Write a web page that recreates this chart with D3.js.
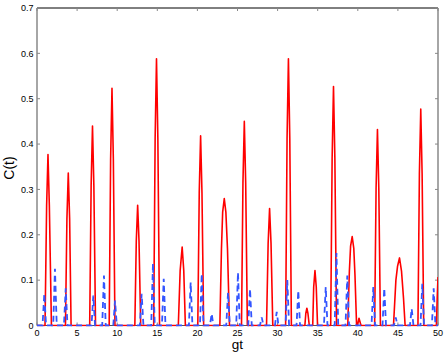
<!DOCTYPE html>
<html>
<head>
<meta charset="utf-8">
<script src="https://d3js.org/d3.v7.min.js"></script>
<style>
  body{ margin:0; background:#fff; }
  .ticklabel{ font-family:"Liberation Sans", Arial, sans-serif; font-size:9px; fill:#000; }
  .axislabel{ font-family:"Liberation Sans", Arial, sans-serif; font-size:14px; fill:#000; }
</style>
</head>
<body>
<svg id="chart" width="447" height="355"></svg>
<script>
// tick values and labels
var xTicks = [0,5,10,15,20,25,30,35,40,45,50];
var yTicks = [0,0.1,0.2,0.3,0.4,0.5,0.6,0.7];
var yTickLabels = ["0","0.1","0.2","0.3","0.4","0.5","0.6","0.7"];

// red solid curve, [gt, C]
var redPoints = [
  [0,0],
  [1.0,0],[1.2,0.264],[1.37,0.377],[1.54,0.264],[1.8,0],
  [3.55,0],[3.73,0.235],[3.9,0.336],[4.07,0.235],[4.25,0],
  [6.57,0],[6.75,0.308],[6.92,0.44],[7.09,0.308],[7.3,0],
  [9.0,0],[9.18,0.366],[9.35,0.523],[9.52,0.366],[9.72,0],
  [12.2,0],[12.38,0.186],[12.55,0.265],[12.72,0.186],[12.93,0],
  [14.55,0],[14.73,0.412],[14.9,0.588],[15.07,0.412],[15.28,0],
  [17.62,0],[17.85,0.121],[18.1,0.173],[18.3,0.121],[18.5,0],
  [20.05,0],[20.23,0.293],[20.4,0.418],[20.57,0.293],[20.78,0],
  [22.8,0],[23.0,0.17],[23.15,0.25],[23.35,0.28],[23.55,0.25],[23.75,0.17],[24.0,0],
  [25.5,0],[25.68,0.315],[25.85,0.45],[26.02,0.315],[26.23,0],
  [28.62,0],[28.82,0.181],[29.0,0.258],[29.18,0.181],[29.4,0],
  [31.0,0],[31.18,0.412],[31.35,0.588],[31.52,0.412],[31.72,0],
  [33.4,0],[33.52,0.027],[33.65,0.038],[33.78,0.027],[33.95,0],
  [34.38,0],[34.5,0.085],[34.66,0.121],[34.82,0.085],[34.98,0],
  [36.62,0],[36.8,0.369],[36.97,0.527],[37.14,0.369],[37.35,0],
  [38.75,0],[38.95,0.12],[39.1,0.175],[39.3,0.196],[39.5,0.17],[39.65,0.11],[39.85,0],
  [39.95,0],[40.15,0.016],[40.4,0],
  [42.1,0],[42.28,0.302],[42.45,0.432],[42.62,0.302],[42.82,0],
  [44.45,0],[44.75,0.1],[44.95,0.13],[45.2,0.149],[45.45,0.12],[45.7,0.06],[45.9,0],
  [47.5,0],[47.68,0.334],[47.85,0.477],[48.02,0.334],[48.22,0],
  [49.8,0],[49.9,0.06],[50,0.107]
];

// blue dashed curve
var bluePoints = [
  [0,0],
  [0.69,0],[0.91,0.07],[1.13,0],
  [2.02,0],[2.24,0.125],[2.46,0],
  [3.36,0],[3.58,0.082],[3.8,0],
  [6.8,0],[7.02,0.066],[7.24,0],
  [8.13,0],[8.35,0.11],[8.57,0],
  [9.51,0],[9.73,0.055],[9.95,0],
  [12.83,0],[13.05,0.07],[13.27,0],
  [14.24,0],[14.46,0.137],[14.68,0],
  [15.58,0],[15.8,0.103],[16.02,0],
  [18.94,0],[19.16,0.095],[19.38,0],
  [20.32,0],[20.54,0.114],[20.76,0],
  [21.56,0],[21.78,0.026],[22.0,0],
  [23.6,0],[23.82,0.073],[24.04,0],
  [24.84,0],[25.06,0.117],[25.28,0],
  [26.34,0],[26.56,0.081],[26.78,0],
  [27.8,0],[28.02,0.018],[28.24,0],
  [29.67,0],[29.89,0.03],[30.11,0],
  [30.99,0],[31.21,0.1],[31.43,0],
  [32.36,0],[32.58,0.077],[32.8,0],
  [35.78,0],[36.0,0.085],[36.22,0],
  [37.12,0],[37.34,0.16],[37.56,0],
  [38.47,0],[38.69,0.11],[38.91,0],
  [41.71,0],[41.93,0.085],[42.15,0],
  [43.08,0],[43.3,0.082],[43.52,0],
  [44.51,0],[44.73,0.018],[44.95,0],
  [46.5,0],[46.72,0.037],[46.94,0],
  [47.82,0],[48.04,0.092],[48.26,0],
  [49.24,0],[49.46,0.082],[49.68,0],
  [50,0]
];

var svg = d3.select("#chart");
// plot box (pixels)
var plotL = 37, plotR = 438, plotT = 8, plotB = 325.5;

var x = d3.scaleLinear().domain([0,50]).range([plotL,plotR]);
var y = d3.scaleLinear().domain([0,0.7]).range([plotB,plotT]);

svg.append("defs").append("clipPath").attr("id","plotclip")
  .append("rect")
  .attr("x", plotL).attr("y", plotT - 1)
  .attr("width", plotR - plotL).attr("height", plotB - plotT + 2);

// frame: grey left/right/bottom, black top
svg.append("line").attr("x1",plotL).attr("x2",plotR).attr("y1",plotB).attr("y2",plotB)
  .attr("stroke","#555").attr("stroke-width",1);
svg.append("line").attr("x1",plotL).attr("x2",plotR).attr("y1",plotT).attr("y2",plotT)
  .attr("stroke","#000").attr("stroke-width",1);
svg.append("line").attr("x1",plotL).attr("x2",plotL).attr("y1",plotT).attr("y2",plotB)
  .attr("stroke","#888").attr("stroke-width",1.5);
svg.append("line").attr("x1",plotR).attr("x2",plotR).attr("y1",plotT).attr("y2",plotB)
  .attr("stroke","#888").attr("stroke-width",1.5);

// inward ticks
var tickLen = 3;
svg.append("g").selectAll("line").data(xTicks).enter().append("line")
  .attr("x1", function(d){ return x(d); }).attr("x2", function(d){ return x(d); })
  .attr("y1", plotB).attr("y2", plotB - tickLen)
  .attr("stroke","#888");
svg.append("g").selectAll("line").data(xTicks).enter().append("line")
  .attr("x1", function(d){ return x(d); }).attr("x2", function(d){ return x(d); })
  .attr("y1", plotT).attr("y2", plotT + tickLen)
  .attr("stroke","#888");
svg.append("g").selectAll("line").data(yTicks).enter().append("line")
  .attr("x1", plotL).attr("x2", plotL + tickLen)
  .attr("y1", function(d){ return y(d); }).attr("y2", function(d){ return y(d); })
  .attr("stroke","#888");
svg.append("g").selectAll("line").data(yTicks).enter().append("line")
  .attr("x1", plotR).attr("x2", plotR - tickLen)
  .attr("y1", function(d){ return y(d); }).attr("y2", function(d){ return y(d); })
  .attr("stroke","#888");

// tick labels
svg.append("g").selectAll("text").data(xTicks).enter().append("text")
  .attr("class","ticklabel")
  .attr("x", function(d){ return x(d); })
  .attr("y", plotB + 10)
  .attr("text-anchor","middle")
  .text(function(d){ return d; });
svg.append("g").selectAll("text").data(yTicks).enter().append("text")
  .attr("class","ticklabel")
  .attr("x", plotL - 3.5)
  .attr("y", function(d){ return y(d) + 3.2; })
  .attr("text-anchor","end")
  .text(function(d,i){ return yTickLabels[i]; });

// axis titles
svg.append("text").attr("class","axislabel")
  .attr("x", 237.5).attr("y", 348.5)
  .style("font-size","13.5px")
  .attr("text-anchor","middle").text("gt");
svg.append("text").attr("class","axislabel")
  .attr("transform","translate(14,168) rotate(-90)")
  .attr("text-anchor","middle").text("C(t)");

// series
var line = d3.line()
  .x(function(d){ return x(d[0]); })
  .y(function(d){ return y(d[1]); });

var plot = svg.append("g").attr("clip-path","url(#plotclip)");
plot.append("path").datum(redPoints)
  .attr("d", line)
  .attr("fill","none")
  .attr("stroke","#ff0000")
  .attr("stroke-width",1.6)
  .attr("stroke-linejoin","round");
plot.append("path").datum(bluePoints)
  .attr("d", line)
  .attr("fill","none")
  .attr("stroke","#3355ff")
  .attr("stroke-width",1.8)
  .attr("stroke-dasharray","6,4");
</script>
</body>
</html>
